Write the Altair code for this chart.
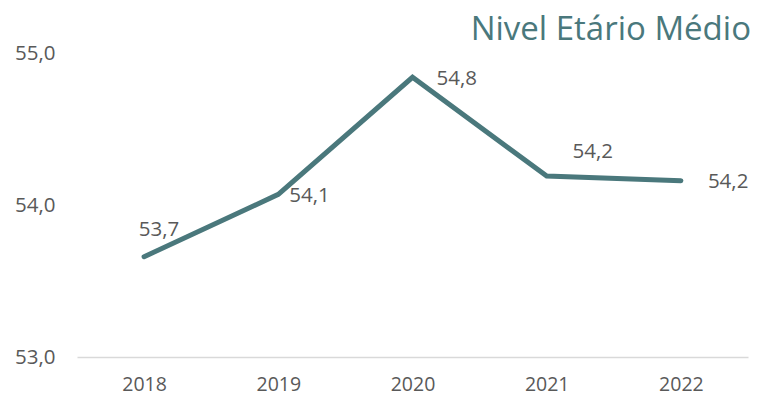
import altair as alt
import pandas as pd

years = ["2018", "2019", "2020", "2021", "2022"]
values = [53.66, 54.07, 54.84, 54.19, 54.16]
labels = ["53,7", "54,1", "54,8", "54,2", "54,2"]
y_ticks = [53, 54, 55]
title_text = "Nivel Etário Médio"

df = pd.DataFrame({"ano": years, "valor": values, "rotulo": labels})

TEAL = "#4a787c"
GREY = "#595959"
FONT = "Open Sans"

# label placement per year (dx, dy, align)
label_pos = {
    "2018": (15, -27, "center"),
    "2019": (11, 2, "left"),
    "2020": (24, 2, "left"),
    "2021": (46, -24, "center"),
    "2022": (27, 1, "left"),
}

base = alt.Chart(df)

x_enc = alt.X(
    "ano:N",
    sort=years,
    scale=alt.Scale(paddingInner=0, paddingOuter=0, align=0.5),
    axis=alt.Axis(
        title=None, labelAngle=0, ticks=False, domain=True, domainColor="#d9d9d9",
        domainWidth=1.5, labelColor=GREY, labelFontSize=19.5, labelFont=FONT, labelPadding=18,
        grid=False,
    ),
)
y_enc = alt.Y(
    "valor:Q",
    scale=alt.Scale(domain=[53, 55], nice=False, zero=False),
    axis=alt.Axis(
        title=None, values=y_ticks, ticks=False, domain=False, grid=False,
        labelColor=GREY, labelFontSize=20.5, labelFont=FONT, labelPadding=22,
        labelExpr="replace(format(datum.value, '.1f'), '.', ',')",
    ),
)

line = base.mark_line(color=TEAL, strokeWidth=5, strokeCap="round", strokeJoin="miter").encode(x=x_enc, y=y_enc)

layers = [line]
for yr, (dx, dy, al) in label_pos.items():
    layers.append(
        base.transform_filter(alt.datum.ano == yr)
        .mark_text(dx=dx, dy=dy, align=al, baseline="middle", fontSize=20.5, font=FONT, color=GREY)
        .encode(x=alt.X("ano:N", sort=years), y="valor:Q", text="rotulo:N")
    )

title_mark = (
    alt.Chart(pd.DataFrame({"t": [title_text]}))
    .mark_text(align="right", baseline="alphabetic", fontSize=33, font=FONT, color=TEAL)
    .encode(x=alt.value(674), y=alt.value(-13), text="t:N")
)
layers.append(title_mark)

chart = (
    alt.layer(*layers)
    .properties(
        width=671,
        height=304,
        autosize=alt.AutoSizeParams(type="none"),
        padding={"left": 69, "top": 45, "right": 5, "bottom": 40},
    )
    .configure_view(stroke=None)
)

chart.save("out.html", embed_options={"renderer": "svg", "actions": False})
